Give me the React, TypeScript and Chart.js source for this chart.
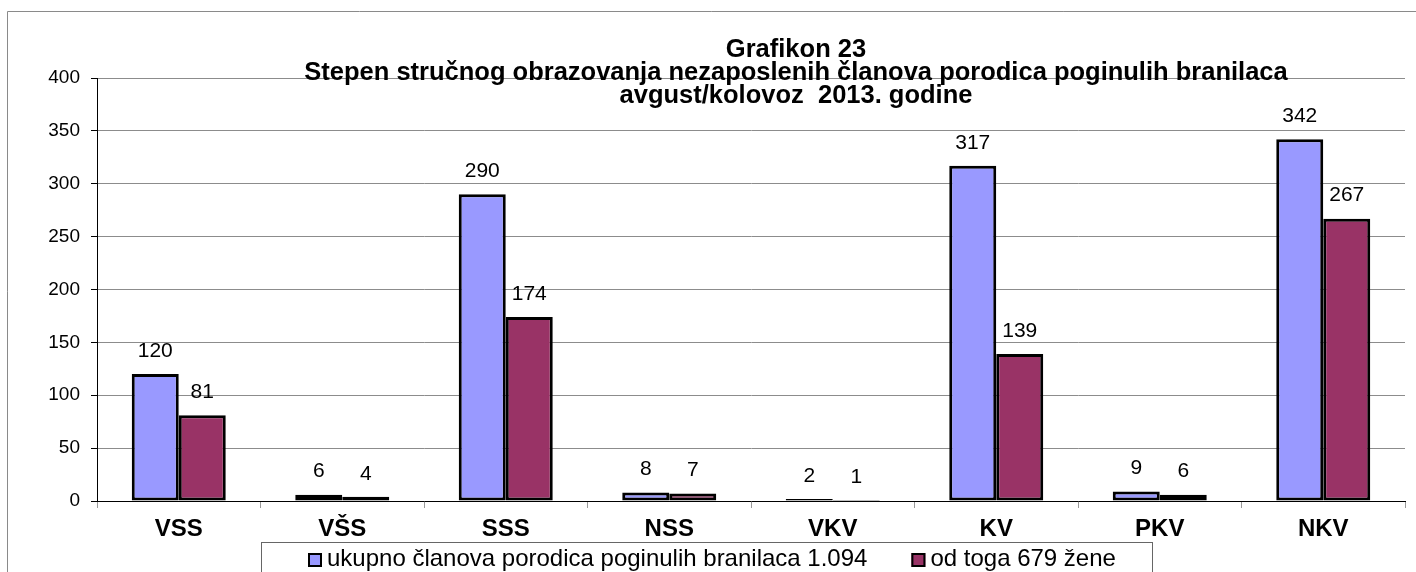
import React, { useEffect, useRef } from "react";
import { Chart, registerables } from "chart.js";

Chart.register(...registerables);

const categories = ["VSS", "VŠS", "SSS", "NSS", "VKV", "KV", "PKV", "NKV"];
const totalMembers = [120, 6, 290, 8, 2, 317, 9, 342];
const women = [81, 4, 174, 7, 1, 139, 6, 267];
const seriesLabels = [
  "ukupno članova porodica poginulih branilaca 1.094",
  "od toga 679 žene",
];
const seriesColors = ["#9999FF", "#993366"];
const titleLines = [
  "Grafikon 23",
  "Stepen stručnog obrazovanja nezaposlenih članova porodica poginulih branilaca",
  "avgust/kolovoz  2013. godine",
];
const yMin = 0;
const yMax = 400;
const yStep = 50;

const FONT = "'Liberation Sans', Arial, sans-serif";

export default function App() {
  const canvasRef = useRef<HTMLCanvasElement | null>(null);

  useEffect(() => {
    const canvas = canvasRef.current;
    if (!canvas) return;

    const framePlugin = {
      id: "frame",
      beforeDraw(chart: any) {
        const ctx = chart.ctx;
        ctx.save();
        ctx.fillStyle = "#ffffff";
        ctx.fillRect(0, 0, chart.width, chart.height);
        ctx.strokeStyle = "#8a8a8a";
        ctx.lineWidth = 1;
        ctx.beginPath();
        ctx.moveTo(7.5, chart.height);
        ctx.lineTo(7.5, 11.5);
        ctx.lineTo(chart.width, 11.5);
        ctx.stroke();
        ctx.restore();
      },
    };

    const titlePlugin = {
      id: "customTitle",
      afterDraw(chart: any) {
        const ctx = chart.ctx;
        ctx.save();
        ctx.fillStyle = "#000";
        ctx.font = `bold 25.5px ${FONT}`;
        ctx.textAlign = "center";
        ctx.textBaseline = "alphabetic";
        const cx = 796;
        const baselines = [57, 80, 102.5];
        titleLines.forEach((t, i) => ctx.fillText(t, cx, baselines[i]));
        ctx.restore();
      },
    };

    const dataLabelPlugin = {
      id: "dataLabels",
      afterDatasetsDraw(chart: any) {
        const ctx = chart.ctx;
        ctx.save();
        ctx.fillStyle = "#000";
        ctx.font = `21px ${FONT}`;
        ctx.textAlign = "center";
        ctx.textBaseline = "middle";
        chart.data.datasets.forEach((ds: any, di: number) => {
          const meta = chart.getDatasetMeta(di);
          meta.data.forEach((bar: any, i: number) => {
            ctx.fillText(String(ds.data[i]), bar.x, bar.y - 23);
          });
        });
        ctx.restore();
      },
    };

    const legendPlugin = {
      id: "customLegend",
      afterDraw(chart: any) {
        const ctx = chart.ctx;
        ctx.save();
        ctx.strokeStyle = "#666";
        ctx.lineWidth = 1;
        ctx.strokeRect(261.5, 542.5, 891, 60);
        ctx.font = `24px ${FONT}`;
        ctx.textBaseline = "alphabetic";
        ctx.textAlign = "left";
        let x = 308;
        const baseline = 566;
        seriesLabels.forEach((label, i) => {
          ctx.fillStyle = seriesColors[i];
          ctx.fillRect(x, 553, 14, 14);
          ctx.strokeStyle = "#000";
          ctx.lineWidth = 2;
          ctx.strokeRect(x + 1, 554, 12, 12);
          ctx.fillStyle = "#000";
          ctx.fillText(label, x + 19, baseline);
          x = x + 19 + ctx.measureText(label).width + 44;
        });
        ctx.restore();
      },
    };

    const chart = new Chart(canvas, {
      type: "bar",
      data: {
        labels: categories,
        datasets: [
          {
            label: seriesLabels[0],
            data: totalMembers,
            backgroundColor: seriesColors[0],
            borderColor: "#000",
            borderWidth: 3,
            borderSkipped: false,
            categoryPercentage: 0.575,
            barPercentage: 1,
          },
          {
            label: seriesLabels[1],
            data: women,
            backgroundColor: seriesColors[1],
            borderColor: "#000",
            borderWidth: 3,
            borderSkipped: false,
            categoryPercentage: 0.575,
            barPercentage: 1,
          },
        ],
      },
      options: {
        responsive: false,
        animation: false,
        devicePixelRatio: 1,
        layout: { padding: { left: 0, right: 11, top: 78, bottom: 0 } },
        plugins: {
          legend: { display: false },
          title: { display: false },
          tooltip: { enabled: false },
        },
        scales: {
          x: {
            afterFit(scale: any) {
              scale.height = 71;
            },
            grid: {
              display: true,
              drawOnChartArea: false,
              drawTicks: true,
              tickLength: 7,
              tickColor: "#999",
              offset: true,
            },
            border: { display: true, color: "#000", width: 1 },
            ticks: {
              color: "#000",
              padding: 7,
              font: { family: FONT, size: 24, weight: "bold" },
              maxRotation: 0,
              autoSkip: false,
            },
          },
          y: {
            min: yMin,
            max: yMax,
            afterFit(scale: any) {
              scale.width = 97;
            },
            ticks: {
              stepSize: yStep,
              color: "#000",
              padding: 11,
              font: { family: FONT, size: 19 },
            },
            grid: {
              color: (c: any) =>
                c.tick && c.tick.value === 0 ? "rgba(0,0,0,0)" : "#8c8c8c",
              tickColor: "#000",
              tickLength: 6,
              lineWidth: 1,
            },
            border: { display: true, color: "#000", width: 1 },
          },
        },
      },
      plugins: [framePlugin, dataLabelPlugin, titlePlugin, legendPlugin],
    });

    return () => chart.destroy();
  }, []);

  return (
    <div
      style={{
        position: "absolute",
        left: 0,
        top: 0,
        width: 1416,
        height: 572,
        background: "#fff",
      }}
    >
      <canvas ref={canvasRef} width={1416} height={572} />
    </div>
  );
}
